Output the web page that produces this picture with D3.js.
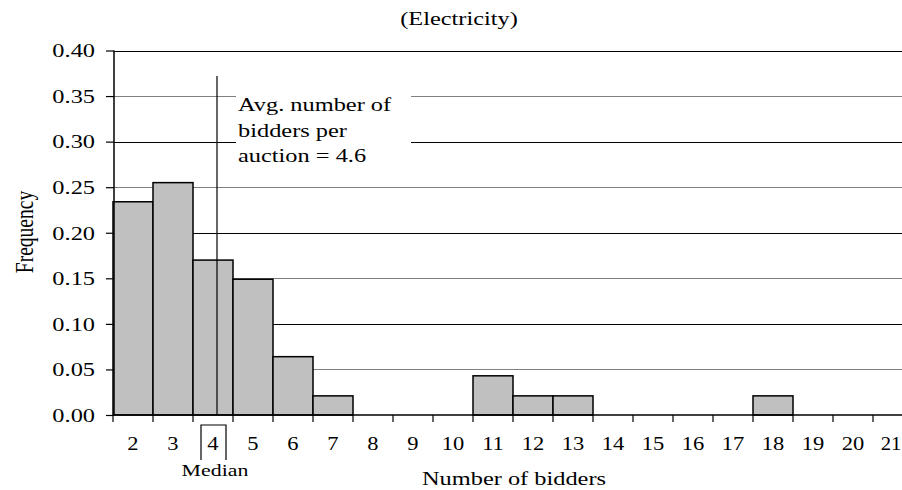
<!DOCTYPE html>
<html>
<head>
<meta charset="utf-8">
<script src="https://cdn.jsdelivr.net/npm/d3@7"></script>
<style>
  body { margin: 0; background: #fff; }
  svg text { font-family: "Liberation Serif", "Times New Roman", serif; fill: #000; }
</style>
</head>
<body>
<div class="chart"></div>
<script>
// bidders per auction (electricity), share of auctions
var bidders = [2, 3, 4, 5, 6, 7, 8, 9, 10, 11, 12, 13, 14, 15, 16, 17, 18, 19, 20, 21];
var frequency = [0.234, 0.255, 0.170, 0.149, 0.064, 0.021, 0, 0, 0, 0.043, 0.021, 0.021, 0, 0, 0, 0, 0.021, 0, 0, 0];
var yTicks = [0, 0.05, 0.10, 0.15, 0.20, 0.25, 0.30, 0.35, 0.40];
var medianBidders = 4;
var markerPos = 4.1;       // where the vertical rule sits
var markerTop = 0.372;
var noteLines = ["Avg. number of", "bidders per", "auction = 4.6"];

var width = 902, height = 490,
    margin = ({ top: 50.5, right: -11, bottom: 75, left: 113 });
var sx = 1.25; // the original picture is stretched sideways

var svg = d3.select(".chart").append("svg")
    .attr("width", width)
    .attr("height", height);

var x = d3.scaleBand()
    .domain(bidders)
    .range([margin.left, width - margin.right])
    .padding(0);

// continuous version of the band scale for the marker line
var xPos = d3.scaleLinear()
    .domain([bidders[0], bidders[bidders.length - 1]])
    .range([x(bidders[0]) + x.bandwidth() / 2, x(bidders[bidders.length - 1]) + x.bandwidth() / 2]);

var y = d3.scaleLinear()
    .domain([0, 0.40])
    .range([height - margin.bottom, margin.top]);

var x0 = margin.left + 1, x1 = width;

// gridlines, black on tenths and grey in between
svg.append("g")
    .selectAll("line")
    .data(yTicks.filter(d => d > 0))
    .join("line")
    .attr("x1", x0)
    .attr("x2", x1)
    .attr("y1", d => Math.round(y(d)) + 0.5)
    .attr("y2", d => Math.round(y(d)) + 0.5)
    .attr("stroke", d => Math.round(d * 100) % 10 === 0 ? "#000" : "#808080")
    .attr("stroke-width", 1.2);

// note box hides the grid behind the text
svg.append("rect")
    .attr("x", 236)
    .attr("y", 84)
    .attr("width", 175)
    .attr("height", 84)
    .attr("fill", "#fff");

svg.append("g")
    .selectAll("text")
    .data(noteLines)
    .join("text")
    .attr("transform", (d, i) => `translate(238,${111 + i * 25.5}) scale(${sx},1)`)
    .style("font-size", "19.5px")
    .text(d => d);

// bars
svg.append("g")
    .selectAll("rect")
    .data(frequency.map((f, i) => ({ n: bidders[i], f: f })).filter(d => d.f > 0))
    .join("rect")
    .attr("x", d => x(d.n))
    .attr("y", d => y(d.f))
    .attr("width", x.bandwidth())
    .attr("height", d => y(0) - y(d.f))
    .attr("fill", "#c0c0c0")
    .attr("stroke", "#000")
    .attr("stroke-width", 1.5);

// vertical marker
svg.append("line")
    .attr("x1", xPos(markerPos))
    .attr("x2", xPos(markerPos))
    .attr("y1", y(markerTop))
    .attr("y2", y(0))
    .attr("stroke", "#000")
    .attr("stroke-width", 1.2);

// x axis: ticks on the band edges, labels centred
var xAxis = svg.append("g")
    .attr("transform", `translate(0,${y(0)})`);

xAxis.append("line")
    .attr("x1", margin.left)
    .attr("x2", width)
    .attr("stroke", "#000")
    .attr("stroke-width", 1.5);

xAxis.selectAll(".edge")
    .data(bidders)
    .join("line")
    .attr("class", "edge")
    .attr("x1", d => x(d))
    .attr("x2", d => x(d))
    .attr("y1", 0)
    .attr("y2", 7)
    .attr("stroke", "#000")
    .attr("stroke-width", 1.2);

xAxis.call(d3.axisBottom(x).tickSize(0).tickPadding(0))
    .call(g => g.select(".domain").remove())
    .selectAll("text")
    .attr("y", 35)
    .attr("dy", null)
    .attr("transform", d => d === 21 ? `translate(-2,0) scale(1.15,1)` : `scale(${sx},1)`)
    .style("font-size", "18px")
    .style("font-family", "Liberation Serif");

// y axis
var yAxis = svg.append("g")
    .attr("transform", `translate(${margin.left + 1},0)`)
    .call(d3.axisLeft(y)
        .tickValues(yTicks)
        .tickFormat(d3.format(".2f"))
        .tickSize(8)
        .tickPadding(0))
    .call(g => g.select(".domain").attr("d", `M0,${y(0.40)}V${y(0)}`).attr("stroke-width", 1.5))
    .call(g => g.selectAll(".tick line").attr("stroke-width", 1.2));

yAxis.selectAll(".tick text")
    .attr("x", null)
    .attr("transform", `translate(-19,0) scale(${sx},1)`)
    .style("font-size", "19.5px")
    .style("font-family", "Liberation Serif");

// median box round the "4" label
var mx = x(medianBidders) + x.bandwidth() / 2;
svg.append("path")
    .attr("d", `M${mx - 12},460V425H${mx + 13}V460`)
    .attr("fill", "none")
    .attr("stroke", "#000")
    .attr("stroke-width", 1.2);

svg.append("text")
    .attr("transform", `translate(${mx + 2},476) scale(${sx},1)`)
    .attr("text-anchor", "middle")
    .style("font-size", "17.5px")
    .text("Median");

// titles
svg.append("text")
    .attr("transform", `translate(459,25) scale(${sx},1)`)
    .attr("text-anchor", "middle")
    .style("font-size", "19.5px")
    .text("(Electricity)");

svg.append("text")
    .attr("transform", `translate(514,485) scale(${sx},1)`)
    .attr("text-anchor", "middle")
    .style("font-size", "19.5px")
    .text("Number of bidders");

svg.append("text")
    .attr("transform", `translate(33,232) scale(${sx},1) rotate(-90)`)
    .attr("text-anchor", "middle")
    .style("font-size", "19.5px")
    .text("Frequency");
</script>
</body>
</html>
